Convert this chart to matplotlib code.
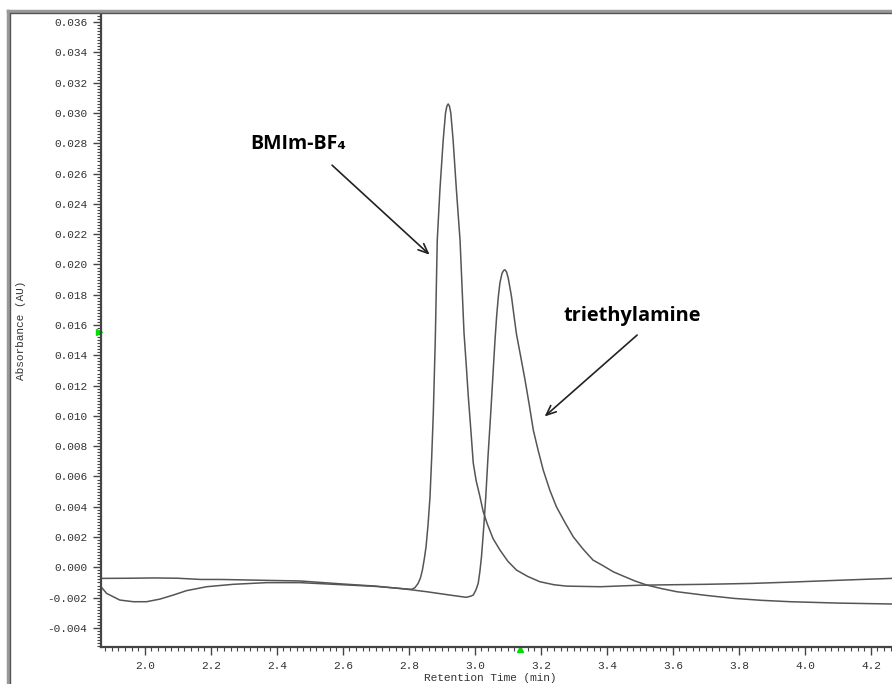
import matplotlib
matplotlib.use("Agg")
import matplotlib.pyplot as plt
from matplotlib.ticker import MultipleLocator, FormatStrFormatter
from matplotlib.lines import Line2D

plt.rcParams['axes.unicode_minus'] = False

# BMIm-BF4 trace (retention time in min, absorbance in AU)
bmim_t = [1.867, 1.95, 2.03, 2.10, 2.17, 2.23, 2.30, 2.37, 2.47, 2.60, 2.70, 2.773,
          2.808, 2.818, 2.828, 2.835, 2.841, 2.847, 2.852, 2.858, 2.864, 2.869, 2.874,
          2.880, 2.886, 2.894, 2.904, 2.911, 2.915, 2.919, 2.923, 2.927, 2.934, 2.944,
          2.955, 2.967, 2.974, 2.980, 2.988, 2.995, 3.004, 3.015, 3.025, 3.037, 3.055,
          3.076, 3.100, 3.126, 3.160, 3.197, 3.240, 3.278, 3.38, 3.50, 3.56, 3.70, 3.84,
          3.95, 4.07, 4.17, 4.263]
bmim_abs = [-0.00073, -0.00072, -0.00070, -0.00072, -0.00080, -0.00080, -0.00083, -0.00086,
            -0.00090, -0.00110, -0.00124, -0.00140, -0.00145, -0.00135, -0.00106, -0.00070,
            -0.00018, 0.00060, 0.00136, 0.00280, 0.00466, 0.00720, 0.01017, 0.01502,
            0.02162, 0.02492, 0.02822, 0.03000, 0.03045, 0.03060, 0.03045, 0.03000, 0.02822,
            0.02492, 0.02162, 0.01550, 0.01330, 0.01130, 0.00900, 0.00690, 0.00570, 0.00470,
            0.00370, 0.00290, 0.00190, 0.00114, 0.00040, -0.00018, -0.00060, -0.00095,
            -0.00115, -0.00124, -0.00128, -0.00118, -0.00116, -0.00112, -0.00106, -0.00098,
            -0.00088, -0.00080, -0.00073]

# triethylamine trace
tea_t = [1.867, 1.884, 1.924, 1.965, 2.005, 2.045, 2.086, 2.126, 2.187, 2.268, 2.369, 2.47,
         2.60, 2.70, 2.773, 2.854, 2.924, 2.974, 2.988, 2.995, 3.003, 3.010, 3.015, 3.020,
         3.027, 3.033, 3.040, 3.048, 3.055, 3.061, 3.066, 3.071, 3.076, 3.082, 3.087, 3.091,
         3.096, 3.101, 3.106, 3.111, 3.118, 3.126, 3.139, 3.152, 3.165, 3.177, 3.192, 3.207,
         3.227, 3.247, 3.272, 3.298, 3.328, 3.358, 3.385, 3.420, 3.450, 3.485, 3.521, 3.565,
         3.612, 3.70, 3.785, 3.87, 3.956, 4.10, 4.263]
tea_abs = [-0.00128, -0.00172, -0.00216, -0.00227, -0.00227, -0.00210, -0.00183, -0.00154,
           -0.00128, -0.00112, -0.00101, -0.00101, -0.00115, -0.00126, -0.00139, -0.00161,
           -0.00183, -0.00198, -0.00190, -0.00183, -0.00150, -0.00106, -0.00030, 0.00070,
           0.00270, 0.00466, 0.00740, 0.01017, 0.01280, 0.01502, 0.01660, 0.01787, 0.01880,
           0.01940, 0.01960, 0.01965, 0.01950, 0.01910, 0.01850, 0.01787, 0.01670, 0.01540,
           0.01390, 0.01237, 0.01070, 0.00907, 0.00770, 0.00643, 0.00510, 0.00400, 0.00300,
           0.00202, 0.00120, 0.00048, 0.00015, -0.00030, -0.00058, -0.00090, -0.00117,
           -0.00140, -0.00161, -0.00185, -0.00205, -0.00218, -0.00227, -0.00236, -0.00242]

fig = plt.figure(figsize=(8.92, 6.84), dpi=100)
ax = fig.add_axes([101 / 892, 37 / 684, 791 / 892, 633 / 684])

ax.plot(bmim_t, bmim_abs, color='#555555', lw=1.1)
ax.plot(tea_t, tea_abs, color='#555555', lw=1.1)

ax.set_xlim(1.867, 4.264)
ax.set_ylim(-0.00526, 0.03654)

ax.xaxis.set_major_locator(MultipleLocator(0.2))
ax.xaxis.set_minor_locator(MultipleLocator(0.02))
ax.yaxis.set_major_locator(MultipleLocator(0.002))
ax.yaxis.set_minor_locator(MultipleLocator(0.0002))
ax.xaxis.set_major_formatter(FormatStrFormatter('%.1f'))
ax.yaxis.set_major_formatter(FormatStrFormatter('%.3f'))

for s in ['top', 'right']:
    ax.spines[s].set_visible(False)
for s in ['left', 'bottom']:
    ax.spines[s].set_color('#444444')
    ax.spines[s].set_linewidth(1.6)

ax.tick_params(which='major', length=6, width=1.0, color='#444444',
               labelsize=8, labelcolor='#333333', pad=4)
ax.tick_params(which='minor', length=3, width=0.8, color='#444444')
for lab in ax.get_xticklabels() + ax.get_yticklabels():
    lab.set_family('Liberation Mono')

ax.set_xlabel('Retention Time (min)', family='Liberation Mono', fontsize=8, color='#333333')
ax.xaxis.set_label_coords(0.492, -0.041)
ax.xaxis.label.set_va('top')
ax.set_ylabel('Absorbance (AU)', family='Liberation Mono', fontsize=8, color='#333333')
ax.yaxis.set_label_coords(-0.095, 0.5)

# green cursor markers
ax.plot([1.862], [0.01556], marker='>', color='#00dd00', ms=5, clip_on=False)
ax.plot([3.136], [-0.0054], marker='^', color='#00dd00', ms=5, clip_on=False)

# annotations
ax.text(2.318, 0.02795, 'BMIm-BF\u2084', family=['Open Sans', 'DejaVu Sans'],
        fontweight='bold', fontsize=14, ha='left', va='center')
ax.annotate('', xy=(2.869, 0.02052), xytext=(2.561, 0.02668),
            arrowprops=dict(arrowstyle='->,head_length=0.7,head_width=0.3',
                            color='#222222', lw=1.2))
ax.text(3.477, 0.0166, 'triethylamine', family=['Open Sans', 'DejaVu Sans'],
        fontweight='bold', fontsize=14.4, ha='center', va='center')
ax.annotate('', xy=(3.205, 0.00984), xytext=(3.498, 0.01546),
            arrowprops=dict(arrowstyle='->,head_length=0.7,head_width=0.3',
                            color='#222222', lw=1.2))

# outer window frame
fig.add_artist(Line2D([8 / 892, 8 / 892], [0, 1 - 11 / 684], color='#999999', lw=2.5))
fig.add_artist(Line2D([10 / 892, 10 / 892], [0, 1 - 13 / 684], color='#555555', lw=1.0))
fig.add_artist(Line2D([8 / 892, 1], [1 - 11 / 684, 1 - 11 / 684], color='#999999', lw=2.5))
fig.add_artist(Line2D([10 / 892, 1], [1 - 13 / 684, 1 - 13 / 684], color='#555555', lw=1.0))

fig.savefig('out.png', dpi=100)
